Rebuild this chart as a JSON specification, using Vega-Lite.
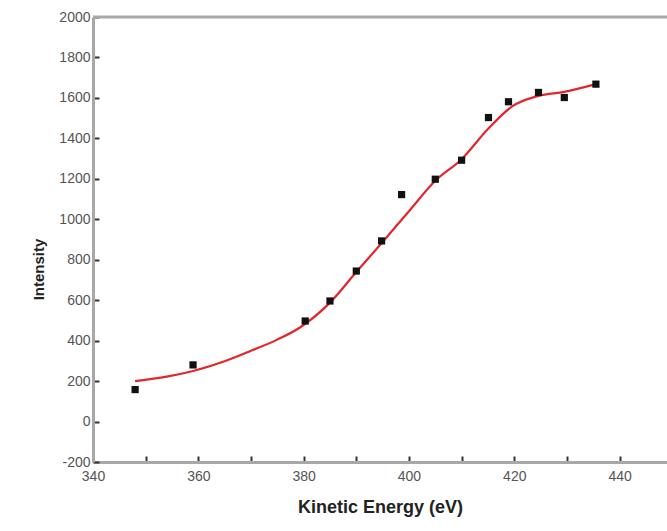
{
  "$schema": "https://vega.github.io/schema/vega-lite/v6.json",
  "width": 574,
  "height": 445,
  "autosize": "none",
  "padding": {"left": 93, "top": 17, "right": 0, "bottom": 69},
  "background": "white",
  "config": {
    "view": {"stroke": null},
    "font": "Liberation Sans"
  },
  "datasets": {
    "measured": [
      {"energy": 348, "intensity": 158},
      {"energy": 359, "intensity": 280},
      {"energy": 380.3, "intensity": 497},
      {"energy": 385, "intensity": 596},
      {"energy": 390, "intensity": 744},
      {"energy": 394.8, "intensity": 893},
      {"energy": 398.6, "intensity": 1122},
      {"energy": 405, "intensity": 1198},
      {"energy": 410, "intensity": 1292},
      {"energy": 415.1, "intensity": 1503},
      {"energy": 418.9, "intensity": 1581},
      {"energy": 424.6, "intensity": 1627},
      {"energy": 429.5, "intensity": 1602},
      {"energy": 435.5, "intensity": 1668}
    ],
    "fit": [
      {"energy": 348, "intensity": 200},
      {"energy": 354, "intensity": 222},
      {"energy": 359, "intensity": 250},
      {"energy": 365, "intensity": 298},
      {"energy": 370, "intensity": 350},
      {"energy": 375, "intensity": 405},
      {"energy": 379.3, "intensity": 465},
      {"energy": 385, "intensity": 588},
      {"energy": 390, "intensity": 739},
      {"energy": 395, "intensity": 888},
      {"energy": 400, "intensity": 1040},
      {"energy": 405, "intensity": 1190},
      {"energy": 410, "intensity": 1297},
      {"energy": 415, "intensity": 1446},
      {"energy": 419.6, "intensity": 1558},
      {"energy": 424.6, "intensity": 1610},
      {"energy": 429.5, "intensity": 1630},
      {"energy": 435.5, "intensity": 1668}
    ],
    "top": [{"level": 2000}]
  },
  "layer": [
    {
      "data": {"name": "top"},
      "mark": {"type": "rule", "color": "#a8a8a8", "strokeWidth": 3},
      "encoding": {"y": {"field": "level", "type": "quantitative", "scale": {"domain": [-200, 2000], "nice": false}}}
    },
    {
      "data": {"name": "fit"},
      "mark": {"type": "line", "color": "#e3262c", "strokeWidth": 2.2, "interpolate": "monotone"},
      "encoding": {
        "x": {"field": "energy", "type": "quantitative"},
        "y": {"field": "intensity", "type": "quantitative"}
      }
    },
    {
      "data": {"name": "measured"},
      "mark": {"type": "square", "color": "#111", "opacity": 1, "filled": true, "size": 52},
      "encoding": {
        "x": {
          "field": "energy", "type": "quantitative",
          "scale": {"domain": [340, 449], "nice": false, "zero": false},
          "axis": {
            "title": "Kinetic Energy (eV)",
            "values": [340, 350, 360, 370, 380, 390, 400, 410, 420, 430, 440],
            "labelExpr": "datum.value % 20 === 0 ? datum.label : ''",
            "labelFlush": false,
            "grid": false,
            "domainColor": "#a8a8a8", "domainWidth": 3,
            "tickColor": "#333", "tickSize": -6, "tickWidth": 2,
            "labelColor": "#555", "labelFontSize": 14, "labelPadding": 13,
            "titleFontSize": 18, "titleFontWeight": "bold", "titleColor": "#222",
            "titlePadding": 15
          }
        },
        "y": {
          "field": "intensity", "type": "quantitative",
          "scale": {"domain": [-200, 2000], "nice": false, "zero": false},
          "axis": {
            "title": "Intensity",
            "values": [-200, -100, 0, 100, 200, 300, 400, 500, 600, 700, 800, 900, 1000, 1100, 1200, 1300, 1400, 1500, 1600, 1700, 1800, 1900, 2000],
            "labelExpr": "datum.value % 200 === 0 ? datum.value + '' : ''",
            "labelFlush": false,
            "grid": false,
            "domainColor": "#a8a8a8", "domainWidth": 3,
            "tickColor": "#333", "tickSize": -6, "tickWidth": 2,
            "labelColor": "#555", "labelFontSize": 14, "labelPadding": 9,
            "titleFontSize": 15, "titleFontWeight": "bold", "titleColor": "#222",
            "titlePadding": 12, "titleY": 252
          }
        }
      }
    }
  ]
}
